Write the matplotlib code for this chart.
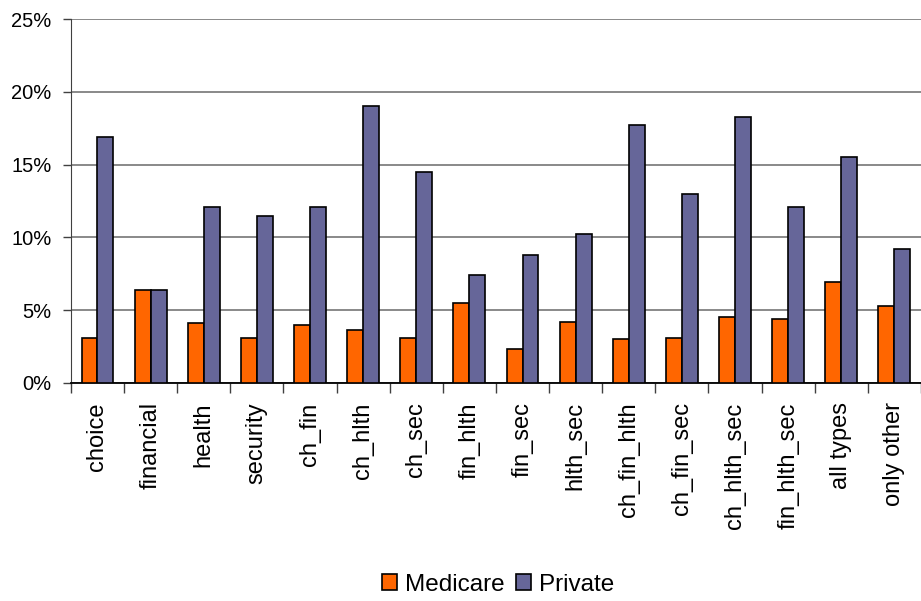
import numpy as np
import matplotlib.pyplot as plt
from matplotlib.ticker import PercentFormatter

plt.rcParams['font.family'] = ['Liberation Sans', 'DejaVu Sans']

categories = ['choice', 'financial', 'health', 'security', 'ch_fin', 'ch_hlth',
              'ch_sec', 'fin_hlth', 'fin_sec', 'hlth_sec', 'ch_fin_hlth',
              'ch_fin_sec', 'ch_hlth_sec', 'fin_hlth_sec', 'all types', 'only other']
medicare = [3.1, 6.4, 4.1, 3.1, 4.0, 3.6, 3.1, 5.5, 2.3, 4.2, 3.0, 3.1, 4.5, 4.4, 6.9, 5.3]
private = [16.9, 6.4, 12.1, 11.5, 12.1, 19.0, 14.5, 7.4, 8.8, 10.2, 17.7, 13.0, 18.3, 12.1, 15.5, 9.2]

x = np.arange(len(categories))
w = 0.3

fig = plt.figure(figsize=(9.21, 6.01), dpi=100)
ax = fig.add_axes([0.077, 0.363, 0.923, 0.605])

ax.bar(x - w / 2, medicare, w, color='#FF6600', edgecolor='black', linewidth=1.2,
       label='Medicare', zorder=3)
ax.bar(x + w / 2, private, w, color='#666699', edgecolor='black', linewidth=1.2,
       label='Private', zorder=3)

ax.set_ylim(0, 25)
ax.set_xlim(-0.5, len(categories) - 0.5)
ax.set_yticks(np.arange(0, 26, 5))
ax.yaxis.set_major_formatter(PercentFormatter(decimals=0))
ax.grid(axis='y', color='#808080', linewidth=1.3, zorder=0)

# category labels sit between the boundary ticks
ax.set_xticks(np.arange(-0.5, len(categories), 1.0))
ax.set_xticklabels([])
ax.set_xticks(x, minor=True)
ax.set_xticklabels(categories, minor=True, rotation=90, fontsize=17, va='top')
ax.tick_params(axis='x', which='minor', length=0, pad=14)
ax.tick_params(axis='x', which='major', length=7, width=1, color='#404040', direction='out')
ax.tick_params(axis='y', length=6, width=1, color='#404040', labelsize=14.5, pad=8)

for side in ['top', 'right']:
    ax.spines[side].set_visible(False)
ax.spines['left'].set_color('#404040')
ax.spines['bottom'].set_color('black')
ax.spines['bottom'].set_linewidth(1.3)

fig.legend(loc='center', bbox_to_anchor=(0.541, 0.027), ncol=2, frameon=False,
           fontsize=17.5, handlelength=0.62, handleheight=0.62, handletextpad=0.35,
           columnspacing=0.45)

fig.savefig('out.png', dpi=100)
